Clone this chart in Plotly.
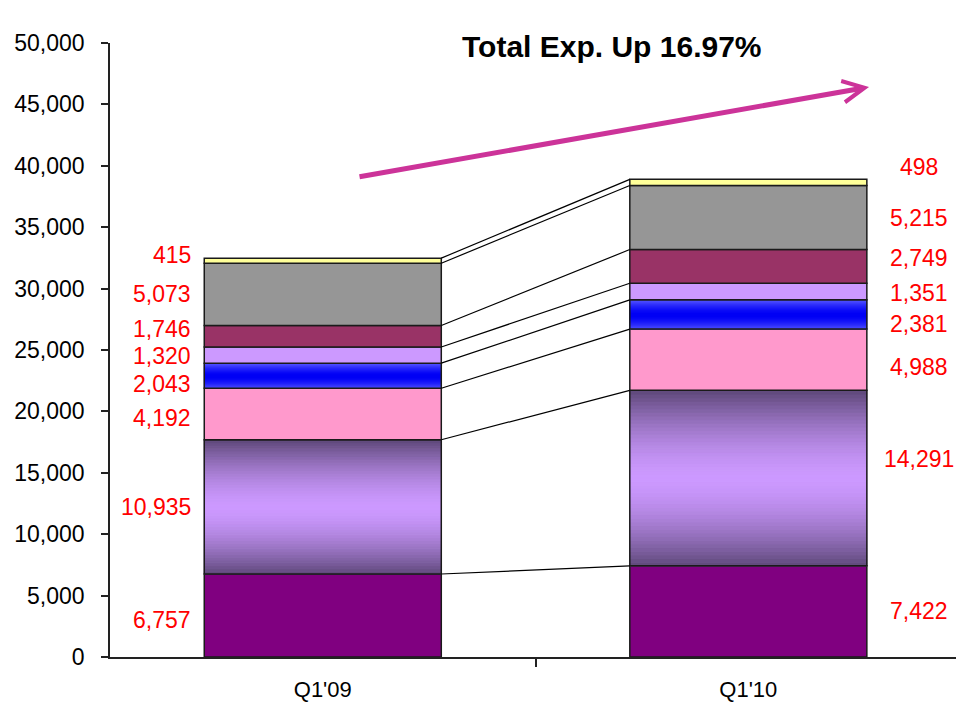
import plotly.graph_objects as go

# Quarterly expense breakdown (stacked, bottom to top)
periods = ["Q1'09", "Q1'10"]
q1_09 = [6757, 10935, 4192, 2043, 1320, 1746, 5073, 415]
q1_10 = [7422, 14291, 4988, 2381, 1351, 2749, 5215, 498]
y_ticks = list(range(0, 50001, 5000))
headline = "Total Exp. Up 16.97%"

# Segment fills: plain colour or (edge, middle) for a banded gradient
fills = [
    "#800080",
    ((94, 72, 122), (204, 153, 255)),
    "#ff99cc",
    ((84, 84, 255), (0, 0, 245)),
    "#cc99ff",
    "#993366",
    "#969696",
    "#ffff99",
]
# Vertical pixel nudges (up is positive) so the value labels do not collide
left_shift = [-4, 0, -4, -8, -1, 7, 0, 6]
right_shift = [0, 19, -7, -10, -1, 8, 0, 15]

FONT = "Liberation Sans, Arial, sans-serif"
BAR_W = 0.557
OUTLINE = "#1a1a1a"
xs = [0, 1]


def cumulative(vals):
    out, s = [], 0
    for v in vals:
        out.append(s)
        s += v
    return out, s


base09, tot09 = cumulative(q1_09)
base10, tot10 = cumulative(q1_10)

fig = go.Figure()

# Connector lines between matching segment boundaries
cx, cy = [], []
tops09 = [b + v for b, v in zip(base09, q1_09)]
tops10 = [b + v for b, v in zip(base10, q1_10)]
for a, b in zip(tops09, tops10):
    cx += [BAR_W / 2, 1 - BAR_W / 2, None]
    cy += [a, b, None]
fig.add_trace(go.Scatter(x=cx, y=cy, mode="lines",
                         line=dict(color="black", width=1.2),
                         hoverinfo="skip", showlegend=False))

N_SLICES = 48
for i, fill in enumerate(fills):
    v = [q1_09[i], q1_10[i]]
    b = [base09[i], base10[i]]
    if isinstance(fill, str):
        fig.add_trace(go.Bar(x=xs, y=v, base=b, width=BAR_W,
                             marker=dict(color=fill,
                                         line=dict(color=OUTLINE, width=1.5)),
                             showlegend=False, hoverinfo="skip"))
    else:
        edge, mid = fill
        for k in range(N_SLICES):
            t = abs(2 * (k + 0.5) / N_SLICES - 1)
            t = t ** 1.6
            col = "rgb(%d,%d,%d)" % tuple(
                round(m + (e - m) * t) for e, m in zip(edge, mid))
            part = [val / N_SLICES for val in v]
            pb = [bb + k * val / N_SLICES for bb, val in zip(b, v)]
            fig.add_trace(go.Bar(x=xs, y=part, base=pb, width=BAR_W,
                                 marker=dict(color=col,
                                             line=dict(color=col, width=1)),
                                 showlegend=False, hoverinfo="skip"))
        fig.add_trace(go.Bar(x=xs, y=v, base=b, width=BAR_W,
                             marker=dict(color="rgba(0,0,0,0)",
                                         line=dict(color=OUTLINE, width=1.5)),
                             showlegend=False, hoverinfo="skip"))

annotations = []
# Value labels: left of the first bar, right of the second
for i in range(len(q1_09)):
    annotations.append(dict(
        x=-BAR_W / 2, y=base09[i] + q1_09[i] / 2, xref="x", yref="y",
        text=f"{q1_09[i]:,}", showarrow=False, xanchor="right",
        xshift=-11, yshift=left_shift[i],
        font=dict(family=FONT, size=23, color="#ff0000")))
    annotations.append(dict(
        x=1 + BAR_W / 2, y=base10[i] + q1_10[i] / 2, xref="x", yref="y",
        text=f"{q1_10[i]:,}", showarrow=False, xanchor="center",
        xshift=52, yshift=right_shift[i],
        font=dict(family=FONT, size=23, color="#ff0000")))

# Headline and trend arrow
annotations.append(dict(
    x=0.5934, y=0.995, xref="paper", yref="paper", text=f"<b>{headline}</b>",
    showarrow=False, xanchor="center", yanchor="middle",
    font=dict(family=FONT, size=30, color="black")))
annotations.append(dict(
    x=0.8972, y=0.9283, ax=-511, ay=90,
    xref="paper", yref="paper", axref="pixel", ayref="pixel",
    text="", showarrow=True, arrowhead=5, arrowsize=0.85, arrowwidth=5,
    arrowcolor="#cc3399", standoff=0))

fig.update_layout(
    width=956, height=702,
    margin=dict(l=110, r=0, t=43, b=45),
    barmode="overlay",
    plot_bgcolor="white", paper_bgcolor="white",
    font=dict(family=FONT, color="black"),
    annotations=annotations,
    showlegend=False,
)
fig.update_xaxes(
    range=[-0.5, 1.488], tickvals=xs, ticktext=periods, ticks="",
    showgrid=False, zeroline=False, showline=True, linecolor="#222",
    linewidth=1.5, tickfont=dict(family=FONT, size=22, color="black"),
    ticklabelstandoff=12, automargin=False,
    minor=dict(tickvals=[0.5], ticks="outside", ticklen=8,
               tickcolor="#222", tickwidth=1.5, showgrid=False),
)
fig.update_yaxes(
    range=[0, 50000], tickvals=y_ticks, tickformat=",", ticks="outside",
    ticklen=7, tickcolor="#222", tickwidth=1.5, showgrid=False,
    zeroline=False, showline=True, linecolor="#222", linewidth=1.5,
    tickfont=dict(family=FONT, size=23, color="black"),
    ticklabelstandoff=12, automargin=False,
)

fig.write_html("out.html")
